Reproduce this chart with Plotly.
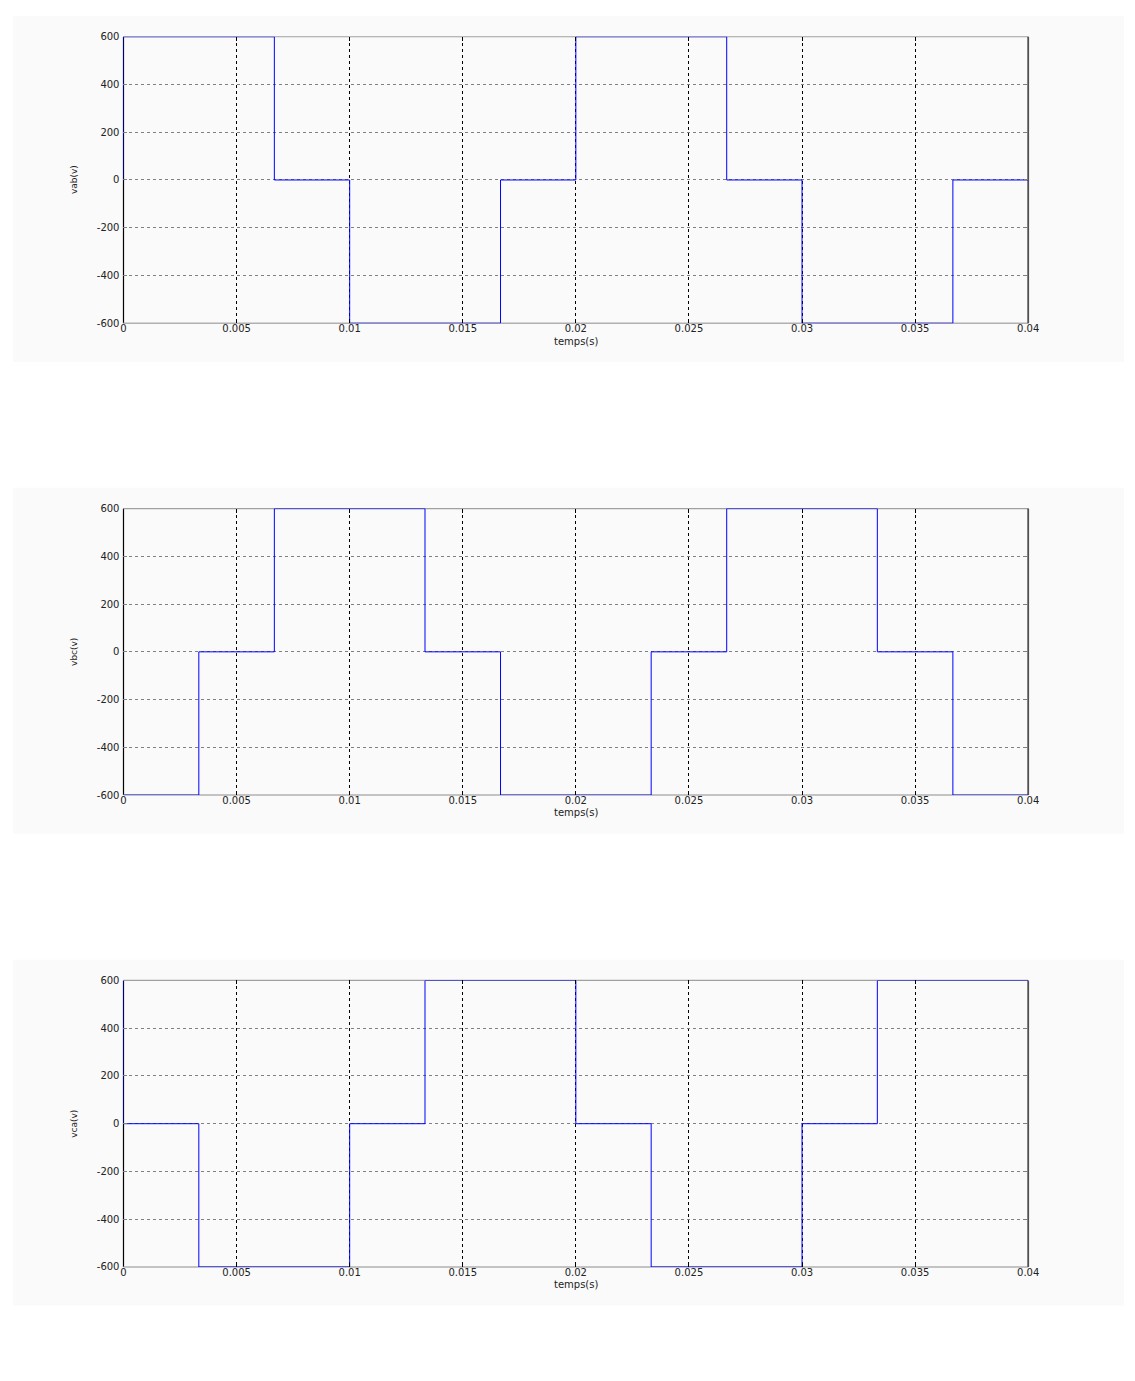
import plotly.graph_objects as go
from plotly.subplots import make_subplots

# Line-to-line voltages of a six-step (180° conduction) three-phase inverter
t_ab = [0, 0, 0.00667, 0.01, 0.01667, 0.02, 0.02667, 0.03, 0.03667, 0.04]
v_ab = [0, 600, 0, -600, 0, 600, 0, -600, 0, 0]

t_bc = [0, 0.00333, 0.00667, 0.01333, 0.01667, 0.02333, 0.02667, 0.03333, 0.03667, 0.04]
v_bc = [-600, 0, 600, 0, -600, 0, 600, 0, -600, -600]

t_ca = [0, 0, 0.00333, 0.01, 0.01333, 0.02, 0.02333, 0.03, 0.03333, 0.04]
v_ca = [600, 0, -600, 0, 600, 0, -600, 0, 600, 600]

x_ticks = [0, 0.005, 0.01, 0.015, 0.02, 0.025, 0.03, 0.035, 0.04]
x_tick_text = ["0", "0.005", "0.01", "0.015", "0.02", "0.025", "0.03", "0.035", "0.04"]
y_ticks = [-600, -400, -200, 0, 200, 400, 600]
y_tick_text = ["-600", "-400", "-200", "0", "200", "400", "600"]

y_titles = ["vab(v)", "vbc(v)", "vca(v)"]
x_title = "temps(s)"
series = [(t_ab, v_ab), (t_bc, v_bc), (t_ca, v_ca)]

W, H = 1135, 1381
left_px, right_px = 122, 1038
panels_px = [(31, 320), (507, 796), (983, 1272)]  # (top, bottom) in pixels
boxes_px = [(10, 359), (486, 835), (962, 1311)]

FONT = "DejaVu Sans"

fig = make_subplots(rows=3, cols=1)

for i, (tt, vv) in enumerate(series):
    fig.add_trace(
        go.Scatter(x=tt, y=vv, mode="lines", line_shape="hv",
                   line=dict(color="#0000ff", width=1), showlegend=False,
                   hoverinfo="x+y"),
        row=i + 1, col=1)

shapes = []
annotations = []
for i, ((top, bot), (btop, bbot)) in enumerate(zip(panels_px, boxes_px)):
    xa = "xaxis" if i == 0 else f"xaxis{i + 1}"
    ya = "yaxis" if i == 0 else f"yaxis{i + 1}"
    xr = "x" if i == 0 else f"x{i + 1}"
    yr = "y" if i == 0 else f"y{i + 1}"
    dom_y = [1 - bot / H, 1 - top / H]
    fig.layout[xa].update(
        domain=[left_px / W, right_px / W], range=[0, 0.04],
        tickvals=x_ticks, ticktext=x_tick_text,
        showgrid=True, gridcolor="#000000", griddash="dot", gridwidth=1,
        ticks="inside", ticklen=4, tickcolor="#000000", mirror="ticks",
        showline=False, zeroline=False, ticklabelstandoff=-2,
        tickfont=dict(family=FONT, size=10, color="#222222"),
        fixedrange=True)
    fig.layout[ya].update(
        domain=dom_y, range=[-600, 600],
        tickvals=y_ticks, ticktext=y_tick_text,
        showgrid=True, gridcolor="#808080", griddash="3px,3px", gridwidth=1,
        ticks="inside", ticklen=4, tickcolor="#808080", mirror="ticks",
        showline=False, zeroline=False, ticklabelstandoff=3,
        tickfont=dict(family=FONT, size=10, color="#222222"),
        fixedrange=True)

    # light panel background
    shapes.append(dict(type="rect", xref="paper", yref="paper",
                       x0=10 / W, x1=1, y0=1 - bbot / H, y1=1 - btop / H,
                       fillcolor="#fafafa", line=dict(width=0), layer="below"))
    # axes frame: black left, grey top/bottom, dark grey right
    frame = [
        (0, 0, 0, 1, "#000000", 1.2),
        (0, 1, 0, 0, "#b0b0b0", 1.5),
        (0, 1, 1, 1, "#a0a0a0", 1.2),
        (1, 1, 0, 1, "#505050", 1.8),
    ]
    for x0, x1, y0, y1, c, w in frame:
        shapes.append(dict(type="line", xref=f"{xr} domain", yref=f"{yr} domain",
                           x0=x0, x1=x1, y0=y0, y1=y1,
                           line=dict(color=c, width=w), layer="below"))

    annotations.append(dict(text=x_title, xref="paper", yref="paper",
                            x=(left_px + right_px) / 2 / W, y=1 - (bot + 18) / H,
                            showarrow=False, xanchor="center", yanchor="middle",
                            font=dict(family=FONT, size=10, color="#222222")))
    annotations.append(dict(text=y_titles[i], xref="paper", yref="paper",
                            x=72 / W, y=1 - (top + bot) / 2 / H, textangle=-90,
                            showarrow=False, xanchor="center", yanchor="middle",
                            font=dict(family=FONT, size=9, color="#222222")))

fig.update_layout(
    width=W, height=H,
    margin=dict(l=0, r=0, t=0, b=0),
    paper_bgcolor="#ffffff", plot_bgcolor="#ffffff",
    shapes=shapes, annotations=annotations,
    showlegend=False,
)

fig.write_html("out.html", config={"displayModeBar": False})
